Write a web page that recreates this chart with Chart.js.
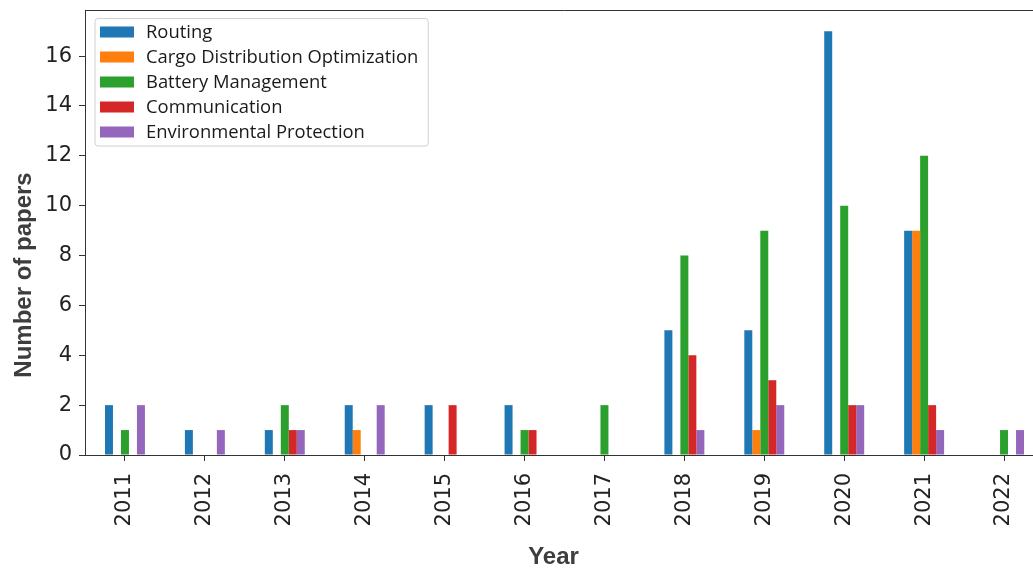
<!DOCTYPE html>
<html>
<head>
<meta charset="utf-8">
<script src="https://cdn.jsdelivr.net/npm/chart.js@4"></script>
<style>
  html, body { margin: 0; padding: 0; background: #fff; overflow: hidden; }
  #wrap { position: absolute; left: 0; top: 0; width: 1050px; height: 569px; }
</style>
</head>
<body>
<div id="wrap"><canvas id="chart" width="1050" height="569"></canvas></div>
<script>
// Papers per year, by research topic
const years = ['2011', '2012', '2013', '2014', '2015', '2016', '2017', '2018', '2019', '2020', '2021', '2022'];
const routing       = [2, 1, 1, 2, 2, 2, 0, 5, 5, 17, 9, 0];
const cargo         = [0, 0, 0, 1, 0, 0, 0, 0, 1, 0, 9, 0];
const battery       = [1, 0, 2, 0, 0, 1, 2, 8, 9, 10, 12, 1];
const communication = [0, 0, 1, 0, 2, 1, 0, 4, 3, 2, 2, 0];
const environment   = [2, 1, 1, 2, 0, 0, 0, 1, 2, 2, 1, 1];
const seriesNames = ['Routing', 'Cargo Distribution Optimization', 'Battery Management', 'Communication', 'Environmental Protection'];
const yTicks = [0, 2, 4, 6, 8, 10, 12, 14, 16];
const yMax = 17.85;

const palette = ['#1f77b4', '#ff7f0e', '#2ca02c', '#d62728', '#9467bd'];
const seriesValues = [routing, cargo, battery, communication, environment];

const AXIS = '#333333';
const TICK_FONT = { family: 'DejaVu Sans', size: 21 };

// Frame line along the top of the plot area
const frame = {
  id: 'frame',
  afterDraw(chart) {
    const { ctx, chartArea: a } = chart;
    ctx.save();
    ctx.strokeStyle = AXIS;
    ctx.lineWidth = 1;
    ctx.beginPath();
    ctx.moveTo(a.left, Math.round(a.top) + 0.5);
    ctx.lineTo(a.right, Math.round(a.top) + 0.5);
    ctx.stroke();
    ctx.restore();
  }
};

// Axis titles
const axisTitles = {
  id: 'axisTitles',
  afterDraw(chart) {
    const { ctx } = chart;
    ctx.save();
    ctx.fillStyle = '#3d3d3d';
    ctx.font = 'bold 24px "Liberation Sans", Arial, sans-serif';
    ctx.textAlign = 'center';
    ctx.textBaseline = 'middle';
    ctx.fillText('Year', 553.5, 557);
    ctx.translate(24, 275);
    ctx.rotate(-Math.PI / 2);
    ctx.fillText('Number of papers', 0, 0);
    ctx.restore();
  }
};

// Boxed legend in the upper-left corner of the plot area
const boxLegend = {
  id: 'boxLegend',
  afterDraw(chart) {
    const { ctx, chartArea: a } = chart;
    const sets = chart.data.datasets;
    ctx.save();
    ctx.font = '18.4px "Open Sans", sans-serif';
    let maxW = 0;
    sets.forEach(d => { maxW = Math.max(maxW, ctx.measureText(d.label).width); });
    const x0 = a.left + 10, y0 = a.top + 8.5;
    const w = 51 + maxW + 10, h = 127.5, r = 3;
    ctx.beginPath();
    ctx.moveTo(x0 + r, y0);
    ctx.arcTo(x0 + w, y0, x0 + w, y0 + h, r);
    ctx.arcTo(x0 + w, y0 + h, x0, y0 + h, r);
    ctx.arcTo(x0, y0 + h, x0, y0, r);
    ctx.arcTo(x0, y0, x0 + w, y0, r);
    ctx.closePath();
    ctx.fillStyle = 'rgba(255,255,255,0.8)';
    ctx.fill();
    ctx.strokeStyle = '#d0d0d0';
    ctx.lineWidth = 1;
    ctx.stroke();
    ctx.textBaseline = 'middle';
    ctx.textAlign = 'left';
    sets.forEach((d, i) => {
      const cy = y0 + 13.5 + i * 25;
      ctx.fillStyle = d.backgroundColor;
      ctx.fillRect(x0 + 5, cy - 5.5, 34, 11);
      ctx.fillStyle = '#1a1a1a';
      ctx.fillText(d.label, x0 + 51, cy + 1);
    });
    ctx.restore();
  }
};

new Chart(document.getElementById('chart'), {
  type: 'bar',
  data: {
    labels: years,
    datasets: seriesNames.map((name, i) => ({
      label: name,
      data: seriesValues[i],
      backgroundColor: palette[i],
      borderWidth: 0,
      barPercentage: 1.0,
      categoryPercentage: 0.5
    }))
  },
  options: {
    responsive: false,
    animation: false,
    devicePixelRatio: 1,
    layout: { padding: { top: 10, left: 0, right: 6, bottom: 0 } },
    plugins: {
      legend: { display: false },
      tooltip: { enabled: false }
    },
    scales: {
      x: {
        type: 'category',
        offset: true,
        grid: { display: true, offset: false, drawOnChartArea: false, drawTicks: true, tickLength: 6, color: AXIS, lineWidth: 1 },
        border: { display: true, color: AXIS, width: 1 },
        ticks: { font: TICK_FONT, color: '#222', padding: 12, minRotation: 90, maxRotation: 90, autoSkip: false },
        afterFit(s) { s.height = 114; s.paddingLeft = 0; s.paddingRight = 0; }
      },
      y: {
        min: 0,
        max: yMax,
        grid: { display: true, drawOnChartArea: false, drawTicks: true, tickLength: 6, color: AXIS, lineWidth: 1 },
        border: { display: true, color: AXIS, width: 1 },
        ticks: { font: TICK_FONT, color: '#222', padding: 7 },
        afterBuildTicks(s) { s.ticks = yTicks.map(v => ({ value: v })); },
        afterFit(s) { s.width = 85; s.paddingTop = 0; s.paddingBottom = 0; }
      }
    }
  },
  plugins: [frame, axisTitles, boxLegend]
});
</script>
</body>
</html>
